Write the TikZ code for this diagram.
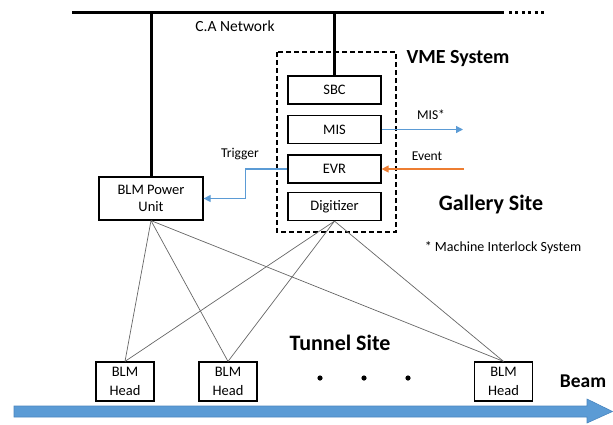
\documentclass[tikz,border=0pt]{standalone}
\usepackage{fontspec}
\setmainfont{Carlito}
\usetikzlibrary{arrows.meta}

\definecolor{sigblue}{HTML}{5B9BD5}
\definecolor{sigorange}{HTML}{ED7D31}
\definecolor{beamedge}{HTML}{4A86BF}

\begin{document}
\begin{tikzpicture}[x=1pt,y=-1pt,
  unitbox/.style={draw,line width=1.2pt,minimum width=93pt,minimum height=28pt,inner sep=0pt,
    font=\fontsize{14.5}{17}\selectfont},
  headbox/.style={draw,line width=1.2pt,minimum width=58pt,minimum height=39pt,inner sep=0pt,
    align=center,font=\fontsize{14.5}{19.5}\selectfont},
  bus/.style={line width=3pt},
  wire/.style={draw=black!60,line width=0.7pt},
  sig/.style={line width=1.2pt,-{Triangle[length=7pt,width=7pt]}},
  tag/.style={font=\fontsize{13.5}{16}\selectfont,inner sep=0pt},
  sitelabel/.style={font=\bfseries\fontsize{22}{26}\selectfont,inner sep=0pt}]
\useasboundingbox (0,0) rectangle (613,424);

% network bus
\coordinate (busL) at (72,12);
\coordinate (busR) at (504,12);
\coordinate (busEnd) at (546,12);
\draw[bus] (busL) -- (busR);
\draw[bus,dash pattern=on 3pt off 3.4pt] (busR) ++(5,0) -- (busEnd);
\node[font=\fontsize{15.5}{18}\selectfont,inner sep=0pt] (ca) at (235,26) {C.A Network};

% VME crate
\draw[line width=1.2pt,dash pattern=on 5pt off 3pt] (277,52) rectangle (396,232);
\node[font=\bfseries\fontsize{20}{24}\selectfont,inner sep=0pt] (vme) at (458,59) {VME System};
\node[unitbox] (sbc) at (334.5,90) {SBC};
\node[unitbox] (mis) at (334.5,129.5) {MIS};
\node[unitbox] (evr) at (334.5,169) {EVR};
\node[unitbox] (dig) at (334.5,206.5) {Digitizer};

\node[draw,line width=1.2pt,minimum width=104pt,minimum height=43pt,inner sep=0pt,
  align=center,font=\fontsize{14.5}{17}\selectfont] (bpu) at (151,198.5) {BLM Power\\Unit};

\draw[bus] (bpu.north) -- (bpu.north |- busL);
\draw[bus] (sbc.north) -- (sbc.north |- busL);

% signals
\coordinate (misout) at (463,129.5);
\coordinate (evtin) at (464,169);
\draw[sig,draw=sigblue] (mis.east) -- (misout);
\node[tag] (mislbl) at (431,115) {MIS*};
\draw[sig,draw=sigorange] (evtin) -- (evr.east);
\node[tag] (evtlbl) at (427,156) {Event};
\draw[sig,draw=sigblue] (evr.west) -- ++(-42,0) |- (bpu.east);
\node[tag] (trglbl) at (240,154) {Trigger};

\node[sitelabel] (gallery) at (491,205) {Gallery Site};
\node[font=\fontsize{14}{17}\selectfont,inner sep=0pt] (note) at (503,248) {* Machine Interlock System};

% tunnel
\node[headbox] (h1) at (125,381.5) {BLM\\Head};
\node[headbox] (h2) at (228,381.5) {BLM\\Head};
\node[headbox] (h3) at (503.5,381.5) {BLM\\Head};
\foreach \x in {320,364,408}
  \fill (\x,378) circle (2.6pt);
\node[sitelabel] (tunnel) at (340,343) {Tunnel Site};

\foreach \h in {h1,h2,h3} {
  \draw[wire] (bpu.south) -- (\h.north);
  \draw[wire] (dig.south) -- (\h.north);
}

% beam
\filldraw[fill=sigblue,draw=beamedge,line width=0.6pt]
  (14,406) -- (587,406) -- (587,399) -- (612.5,411.5) -- (587,423) -- (587,417) -- (14,417) -- cycle;
\node[font=\bfseries\fontsize{19.5}{23}\selectfont,inner sep=0pt] (beam) at (583,381) {Beam};
\end{tikzpicture}
\end{document}
